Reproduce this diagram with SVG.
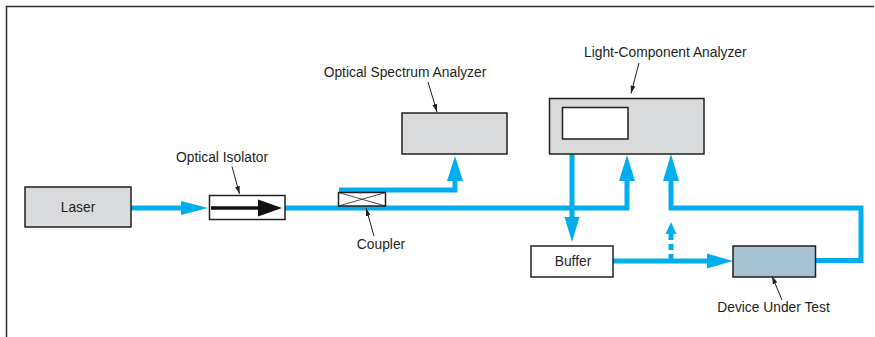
<svg xmlns="http://www.w3.org/2000/svg" width="875" height="337" viewBox="0 0 875 337">
<defs>
<style>
.box{stroke:#231f20;stroke-width:1.5}
.gray{fill:#d9dadc}
.white{fill:#ffffff}
.dut{fill:#a4c2d3}
.beam{fill:none;stroke:#00aeef;stroke-width:5}
.head{fill:#00aeef}
.lbl{font-family:"Liberation Sans",Arial,sans-serif;font-size:13.8px;fill:#231f20}
.lead{stroke:#231f20;stroke-width:1;fill:none;marker-end:url(#lh)}
</style>
<marker id="lh" viewBox="0 0 10 6" refX="10" refY="3" markerWidth="8" markerHeight="5" markerUnits="userSpaceOnUse" orient="auto">
<path d="M0,0 L10,3 L0,6 Z" fill="#231f20"/>
</marker>
</defs>
<rect width="875" height="337" fill="#ffffff"/>
<path d="M6.5,337 V6.5 H874" fill="none" stroke="#2a2a2a" stroke-width="1.5"/>

<g id="connectors">
<path class="beam" d="M131,208 H184"/>
<polygon class="head" points="181,201 208,208 181,215"/>
<path class="beam" d="M285,208 H627 V180"/>
<polygon class="head" points="619,181 627,155 635,181"/>
<path class="beam" d="M339,190 H455 V180"/>
<polygon class="head" points="447,181 455,156 463,181"/>
<path class="beam" d="M572,154 V218"/>
<polygon class="head" points="564.5,217 572,242 579.5,217"/>
<path class="beam" d="M671,180 V208 H861 V260.5 H816"/>
<polygon class="head" points="663,181 671,154 679,181"/>
<path class="beam" d="M613,261 H708"/>
<polygon class="head" points="707,253.5 733,261 707,268.5"/>
<path class="beam" d="M671,234 V259" stroke-dasharray="6 4"/>
<polygon class="head" points="665.5,234 671,222 676.5,234"/>
</g>

<g id="laser">
<rect class="box gray" x="25" y="187" width="106" height="40"/>
<text class="lbl" x="78" y="212.3" text-anchor="middle">Laser</text>
</g>

<g id="optical-isolator">
<rect class="box white" x="209.5" y="195.5" width="75.5" height="24"/>
<path d="M211,208 H262" stroke="#111" stroke-width="3.5"/>
<polygon points="258,199.5 282,208 258,216.5" fill="#111"/>
<text class="lbl" x="222" y="161.7" text-anchor="middle">Optical Isolator</text>
<path class="lead" d="M232,166.5 L239.5,194"/>
</g>

<g id="coupler">
<rect class="box white" x="338.5" y="192.5" width="47" height="13.5"/>
<path d="M338.5,192.5 L385.5,206 M338.5,206 L385.5,192.5" stroke="#231f20" stroke-width="0.8"/>
<text class="lbl" x="381" y="249.3" text-anchor="middle">Coupler</text>
<path class="lead" d="M374,236 L366,208"/>
</g>

<g id="optical-spectrum-analyzer">
<rect class="box gray" x="402" y="113" width="105" height="41"/>
<text class="lbl" x="405" y="76.7" text-anchor="middle">Optical Spectrum Analyzer</text>
<path class="lead" d="M428,82 L437,112"/>
</g>

<g id="light-component-analyzer">
<rect class="box gray" x="549.5" y="98.5" width="154.5" height="55.5"/>
<rect class="box white" x="562.5" y="107.5" width="65.5" height="31.5"/>
<text class="lbl" x="584" y="56.7">Light-Component Analyzer</text>
<path class="lead" d="M639,63 L631,93.5"/>
</g>

<g id="buffer">
<rect class="box white" x="531" y="246" width="82" height="31"/>
<text class="lbl" x="573" y="265.5" text-anchor="middle">Buffer</text>
</g>

<g id="device-under-test">
<rect class="box dut" x="733" y="246" width="82.5" height="31"/>
<text class="lbl" x="773.5" y="312.3" text-anchor="middle">Device Under Test</text>
<path class="lead" d="M782,300 L772,276"/>
</g>
</svg>
